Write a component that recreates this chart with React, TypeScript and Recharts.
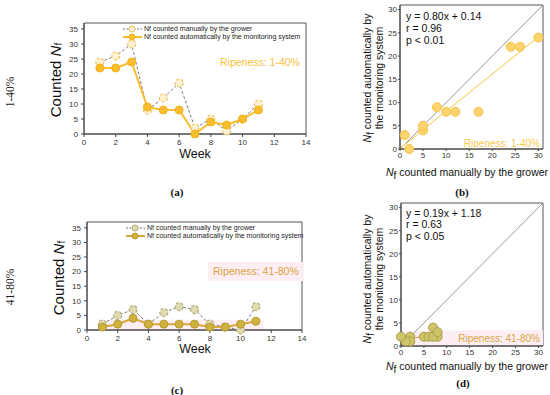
import {
  LineChart,
  Line,
  ScatterChart,
  Scatter,
  XAxis,
  YAxis,
  ZAxis,
  ReferenceArea,
  ReferenceLine,
  Legend,
} from "recharts";

// weekly counts, ripeness 1-40%
const weeks = [1, 2, 3, 4, 5, 6, 7, 8, 9, 10, 11];
const manualLow = [24, 26, 30, 8, 12, 17, 2, 5, 1, 5, 10];
const autoLow = [22, 22, 24, 9, 8, 8, 0, 4, 3, 5, 8];

// weekly counts, ripeness 41-80%
const manualMid = [2, 5, 7, 2, 6, 8, 7, 2, 1, 0, 8];
const autoMid = [1, 2, 4, 2, 2, 2, 2, 1, 1, 2, 3];

const weekTicks = [0, 2, 4, 6, 8, 10, 12, 14];
const countTicks = [0, 5, 10, 15, 20, 25, 30, 35];
const scatterTicks = [0, 5, 10, 15, 20, 25, 30];

const fitLow = { slope: 0.8, intercept: 0.14, r: "0.96", p: "p < 0.01" };
const fitMid = { slope: 0.19, intercept: 1.18, r: "0.63", p: "p < 0.05" };

const seriesNames = [
  "Nf counted manually by the grower",
  "Nf counted automatically by the monitoring system",
];

const toRows = (manual: number[], auto: number[]) =>
  weeks.map((w, i) => ({ week: w, manual: manual[i], auto: auto[i] }));
const toPairs = (manual: number[], auto: number[]) =>
  manual.map((m, i) => ({ x: m, y: auto[i] }));

const SANS = "Liberation Sans, Arial, sans-serif";
const SERIF = "Liberation Serif, Times New Roman, serif";
const tick8 = { fontSize: 8, fill: "#333", fontFamily: SANS };
const axisLine = { stroke: "#444" };

type Palette = {
  manualDot: string;
  manualEdge: string;
  autoLine: string;
  autoDot: string;
  autoEdge: string;
};

const lowPal: Palette = {
  manualDot: "#fdf0cf",
  manualEdge: "#ecc069",
  autoLine: "#f9bd2e",
  autoDot: "#f9bd2e",
  autoEdge: "#f2b21c",
};
const midPal: Palette = {
  manualDot: "#dedab2",
  manualEdge: "#b5ad74",
  autoLine: "#dba63c",
  autoDot: "#cdb23d",
  autoEdge: "#b99a2e",
};

const makeLegend = (pal: Palette) => () => (
  <div style={{ fontFamily: SANS, fontSize: 7, color: "#222", lineHeight: "8px" }}>
    {seriesNames.map((name, i) => (
      <div key={name} style={{ display: "flex", alignItems: "center", height: 8 }}>
        <svg width={21} height={8} style={{ marginRight: 1 }}>
          <line
            x1={1}
            x2={20}
            y1={4}
            y2={4}
            stroke={i === 0 ? "#777" : pal.autoLine}
            strokeWidth={i === 0 ? 1 : 2}
            strokeDasharray={i === 0 ? "2 1.5" : undefined}
          />
          <circle
            cx={10}
            cy={4}
            r={3}
            fill={i === 0 ? pal.manualDot : pal.autoDot}
            stroke={i === 0 ? pal.manualEdge : pal.autoEdge}
          />
        </svg>
        <span>{name}</span>
      </div>
    ))}
  </div>
);

const WeekChart = ({
  manual,
  auto,
  pal,
  width,
  height,
  margin,
  yWidth,
  xHeight,
  legendPos,
  band,
}: any) => (
  <LineChart width={width} height={height} data={toRows(manual, auto)} margin={margin}>
    <XAxis
      type="number"
      dataKey="week"
      domain={[0, 14]}
      ticks={weekTicks}
      height={xHeight}
      tick={tick8}
      tickSize={3}
      tickMargin={2}
      axisLine={axisLine}
      tickLine={axisLine}
    />
    <YAxis
      type="number"
      domain={[0, 37]}
      ticks={countTicks}
      width={yWidth}
      tick={tick8}
      tickSize={3}
      tickMargin={3}
      axisLine={axisLine}
      tickLine={axisLine}
    />
    {band && (
      <ReferenceArea x1={0.7} x2={11.5} y1={0} y2={3.5} fill="#fbd9e6" fillOpacity={0.45} stroke="none" />
    )}
    <ReferenceArea x1={0} x2={14} y1={0} y2={37} fill="none" stroke="#555" strokeWidth={1} />
    <Legend
      layout="vertical"
      align="center"
      verticalAlign="middle"
      wrapperStyle={{ left: legendPos[0], top: legendPos[1], width: 190 }}
      content={makeLegend(pal)}
    />
    <Line
      dataKey="manual"
      name={seriesNames[0]}
      stroke="#7a7a7a"
      strokeWidth={1}
      strokeDasharray="3 2"
      dot={{ r: 4, fill: pal.manualDot, stroke: pal.manualEdge, strokeWidth: 1.2 }}
      isAnimationActive={false}
    />
    <Line
      dataKey="auto"
      name={seriesNames[1]}
      stroke={pal.autoLine}
      strokeWidth={2}
      dot={{ r: 4, fill: pal.autoDot, stroke: pal.autoEdge, strokeWidth: 1 }}
      isAnimationActive={false}
    />
  </LineChart>
);

const PairChart = ({
  manual,
  auto,
  fit,
  fitTo,
  dotFill,
  dotEdge,
  fitColor,
  width,
  height,
  margin,
  yWidth,
  xHeight,
  band,
}: any) => (
  <ScatterChart width={width} height={height} margin={margin}>
    <XAxis
      type="number"
      dataKey="x"
      domain={[0, 31]}
      ticks={scatterTicks}
      height={xHeight}
      tick={tick8}
      tickSize={2}
      tickMargin={1}
      axisLine={axisLine}
      tickLine={axisLine}
    />
    <YAxis
      type="number"
      dataKey="y"
      domain={[0, 31]}
      ticks={scatterTicks}
      width={yWidth}
      tick={tick8}
      tickSize={2}
      tickMargin={1}
      axisLine={axisLine}
      tickLine={axisLine}
    />
    <ZAxis range={[70, 70]} />
    {band && <ReferenceArea x1={0} x2={31} y1={0} y2={3.3} fill="#fbd9e6" fillOpacity={0.45} stroke="none" />}
    <ReferenceArea x1={0} x2={31} y1={0} y2={31} fill="none" stroke="#555" strokeWidth={1} />
    <ReferenceLine
      segment={[
        { x: 0, y: 0 },
        { x: 31, y: 31 },
      ]}
      stroke="#999"
      strokeWidth={1}
    />
    <ReferenceLine
      segment={[
        { x: 0, y: fit.intercept },
        { x: fitTo, y: fit.slope * fitTo + fit.intercept },
      ]}
      stroke={fitColor}
      strokeWidth={1}
    />
    <Scatter
      data={toPairs(manual, auto)}
      fill={dotFill}
      stroke={dotEdge}
      strokeWidth={1}
      isAnimationActive={false}
    />
  </ScatterChart>
);

const NSub = ({ big }: { big?: boolean }) => (
  <>
    <tspan fontStyle="italic">N</tspan>
    <tspan fontSize={big ? 10 : 7} dy={big ? 3 : 2}>
      f
    </tspan>
    <tspan dy={big ? -3 : -2}>{" "}</tspan>
  </>
);

export default function App() {
  return (
    <div style={{ position: "absolute", left: 0, top: 0, width: 550, height: 395, background: "#fff" }}>
      <div style={{ position: "absolute", left: 0, top: 0 }}>
        <WeekChart
          manual={manualLow}
          auto={autoLow}
          pal={lowPal}
          width={320}
          height={165}
          margin={{ top: 23, right: 14, left: 0, bottom: 0 }}
          yWidth={84}
          xHeight={31}
          legendPos={[122, 25]}
        />
      </div>
      <div style={{ position: "absolute", left: 0, top: 190 }}>
        <WeekChart
          manual={manualMid}
          auto={autoMid}
          pal={midPal}
          width={320}
          height={165}
          margin={{ top: 32, right: 18, left: 0, bottom: 0 }}
          yWidth={87}
          xHeight={25}
          legendPos={[125, 34]}
          band
        />
      </div>
      <div style={{ position: "absolute", left: 330, top: 0 }}>
        <PairChart
          manual={manualLow}
          auto={autoLow}
          fit={fitLow}
          fitTo={30}
          dotFill="#fdd36b"
          dotEdge="#f6c24a"
          fitColor="#f9c43c"
          width={220}
          height={170}
          margin={{ top: 5, right: 7, left: 0, bottom: 0 }}
          yWidth={70}
          xHeight={21}
        />
      </div>
      <div style={{ position: "absolute", left: 330, top: 190 }}>
        <PairChart
          manual={manualMid}
          auto={autoMid}
          fit={fitMid}
          fitTo={8}
          dotFill="#cfc46a"
          dotEdge="#aca24a"
          fitColor="#e39a45"
          width={220}
          height={175}
          margin={{ top: 13, right: 7, left: 0, bottom: 0 }}
          yWidth={71}
          xHeight={19}
          band
        />
      </div>

      <svg
        width={550}
        height={395}
        style={{ position: "absolute", left: 0, top: 0, pointerEvents: "none" }}
      >
        {/* row labels */}
        <text x={10} y={92} transform="rotate(-90 10 92)" textAnchor="middle" dominantBaseline="central" fontFamily={SERIF} fontSize={11.5} fill="#222">
          1-40%
        </text>
        <text x={10} y={287} transform="rotate(-90 10 287)" textAnchor="middle" dominantBaseline="central" fontFamily={SERIF} fontSize={11.5} fill="#222">
          41-80%
        </text>

        {/* panel (a) */}
        <text x={55} y={80} transform="rotate(-90 55 80)" textAnchor="middle" dominantBaseline="central" fontFamily={SANS} fontSize={15} fill="#111">
          Counted <tspan fontStyle="italic">N</tspan>
          <tspan fontSize={10} dy={3}>f</tspan>
        </text>
        <text x={195} y={154} textAnchor="middle" dominantBaseline="central" fontFamily={SANS} fontSize={12.5} fill="#111">
          Week
        </text>
        <text x={220} y={66} fontFamily={SANS} fontSize={10.5} fill="#f8bf3a">
          Ripeness: 1-40%
        </text>
        <text x={177} y={192} textAnchor="middle" dominantBaseline="central" fontFamily={SERIF} fontWeight="bold" fontSize={11} fill="#111">
          (a)
        </text>

        {/* panel (c) */}
        <text x={58} y={278} transform="rotate(-90 58 278)" textAnchor="middle" dominantBaseline="central" fontFamily={SANS} fontSize={15} fill="#111">
          Counted <tspan fontStyle="italic">N</tspan>
          <tspan fontSize={10} dy={3}>f</tspan>
        </text>
        <text x={195} y={349} textAnchor="middle" dominantBaseline="central" fontFamily={SANS} fontSize={12.5} fill="#111">
          Week
        </text>
        <rect x={208} y={262} width={96} height={19} fill="#fdeef3" />
        <text x={213} y={275} fontFamily={SANS} fontSize={10.5} fill="#d9a441">
          Ripeness: 41-80%
        </text>
        <text x={177} y={390} textAnchor="middle" dominantBaseline="central" fontFamily={SERIF} fontWeight="bold" fontSize={11} fill="#111">
          (c)
        </text>

        {/* panel (b) */}
        <text fontFamily={SANS} fontSize={10.5} fill="#111">
          <tspan x={406} y={20}>{`y = ${fitLow.slope.toFixed(2)}x + ${fitLow.intercept.toFixed(2)}`}</tspan>
          <tspan x={406} y={32}>{`r = ${fitLow.r}`}</tspan>
          <tspan x={406} y={44}>{fitLow.p}</tspan>
        </text>
        <text x={540} y={147} textAnchor="end" fontFamily={SANS} fontSize={10} fill="#f8c850">
          Ripeness: 1-40%
        </text>
        <text x={467} y={172} textAnchor="middle" dominantBaseline="central" fontFamily={SANS} fontSize={10.5} fill="#111">
          <NSub big />counted manually by the grower
        </text>
        <text transform="rotate(-90 367 78)" x={367} y={78} textAnchor="middle" dominantBaseline="central" fontFamily={SANS} fontSize={10.5} fill="#111">
          <NSub big />counted automatically by
        </text>
        <text transform="rotate(-90 379 78)" x={379} y={78} textAnchor="middle" dominantBaseline="central" fontFamily={SANS} fontSize={10.5} fill="#111">
          the monitoring system
        </text>
        <text x={462} y={192} textAnchor="middle" dominantBaseline="central" fontFamily={SERIF} fontWeight="bold" fontSize={11} fill="#111">
          (b)
        </text>

        {/* panel (d) */}
        <text fontFamily={SANS} fontSize={10.5} fill="#111">
          <tspan x={406} y={216.5}>{`y = ${fitMid.slope.toFixed(2)}x + ${fitMid.intercept.toFixed(2)}`}</tspan>
          <tspan x={406} y={228}>{`r = ${fitMid.r}`}</tspan>
          <tspan x={406} y={239.5}>{fitMid.p}</tspan>
        </text>
        <rect x={454} y={330} width={89} height={15} fill="#fdeef3" />
        <text x={540} y={341.5} textAnchor="end" fontFamily={SANS} fontSize={10} fill="#d9a441">
          Ripeness: 41-80%
        </text>
        <text x={467} y={366} textAnchor="middle" dominantBaseline="central" fontFamily={SANS} fontSize={10.5} fill="#111">
          <NSub big />counted manually by the grower
        </text>
        <text transform="rotate(-90 367 279)" x={367} y={279} textAnchor="middle" dominantBaseline="central" fontFamily={SANS} fontSize={10.5} fill="#111">
          <NSub big />counted automatically by
        </text>
        <text transform="rotate(-90 379 279)" x={379} y={279} textAnchor="middle" dominantBaseline="central" fontFamily={SANS} fontSize={10.5} fill="#111">
          the monitoring system
        </text>
        <text x={463} y={383} textAnchor="middle" dominantBaseline="central" fontFamily={SERIF} fontWeight="bold" fontSize={11} fill="#111">
          (d)
        </text>
      </svg>
    </div>
  );
}
